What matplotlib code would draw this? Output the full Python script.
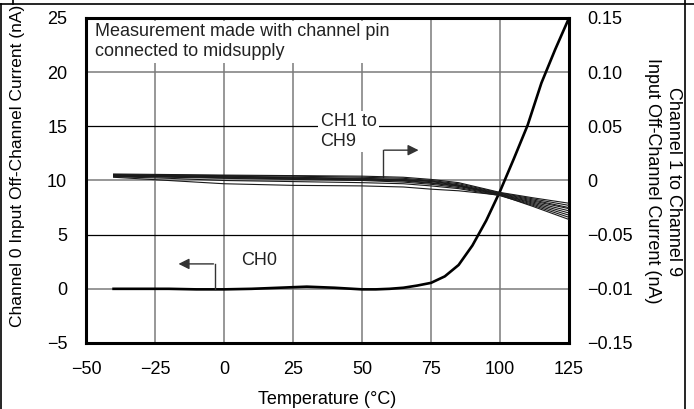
import matplotlib
matplotlib.use("Agg")
import matplotlib.pyplot as plt
from matplotlib.lines import Line2D

plt.rcParams['font.family'] = ['Liberation Sans', 'DejaVu Sans']

# Data
temp_ch0 = [-40, -30, -20, -10, 0, 10, 20, 30, 40, 50, 55, 60, 65, 70, 75,
            80, 85, 90, 95, 100, 105, 110, 115, 120, 125]
# Channel 0 off-channel current (nA, left axis)
ch0 = [0, 0, 0, -0.05, -0.05, 0, 0.1, 0.2, 0.1, -0.05, -0.05, 0.0, 0.1, 0.3,
       0.55, 1.15, 2.2, 4.0, 6.3, 9.0, 12.0, 15.1, 19.0, 22.1, 25.0]

temp_ch = [-40, -20, 0, 25, 50, 65, 75, 85, 100, 112, 125]
# Channel 1..9 off-channel current (nA, right axis)
ch1 = [0.006, 0.0055, 0.005, 0.0045, 0.004, 0.003, 0.001, -0.002, -0.011, -0.016, -0.021]
ch2 = [0.0055, 0.005, 0.0045, 0.004, 0.003, 0.002, 0.000, -0.003, -0.0115, -0.017, -0.023]
ch3 = [0.005, 0.0045, 0.004, 0.003, 0.002, 0.001, -0.0005, -0.004, -0.012, -0.018, -0.025]
ch4 = [0.005, 0.004, 0.0035, 0.0025, 0.0015, 0.0005, -0.001, -0.0045, -0.0125, -0.019, -0.026]
ch5 = [0.0045, 0.004, 0.003, 0.002, 0.001, 0.000, -0.002, -0.005, -0.013, -0.020, -0.028]
ch6 = [0.004, 0.0035, 0.0025, 0.0015, 0.0005, -0.0005, -0.0025, -0.0055, -0.013, -0.021, -0.030]
ch7 = [0.004, 0.003, 0.002, 0.001, 0.000, -0.0015, -0.0035, -0.0065, -0.0135, -0.022, -0.032]
ch8 = [0.0035, 0.002, 0.000, -0.001, -0.002, -0.003, -0.005, -0.0075, -0.014, -0.023, -0.034]
ch9 = [0.003, 0.000, -0.003, -0.0045, -0.005, -0.006, -0.008, -0.0095, -0.0135, -0.024, -0.036]
channels = [ch1, ch2, ch3, ch4, ch5, ch6, ch7, ch8, ch9]

x_ticks = [-50, -25, 0, 25, 50, 75, 100, 125]
left_ticks = [-5, 0, 5, 10, 15, 20, 25]
right_ticks = [-0.15, -0.10, -0.05, 0, 0.05, 0.10, 0.15]
right_labels = ['\u22120.15', '\u22120.01', '\u22120.05', '0', '0.05', '0.10', '0.15']

fig = plt.figure(figsize=(6.94, 4.09), dpi=100)
ax = fig.add_axes([0.1239, 0.1614, 0.696, 0.7946])
ax.set_xlim(-50, 125)
ax.set_ylim(-5, 25)
ax.set_xticks(x_ticks)
ax.set_yticks(left_ticks)

# grid: vertical gray, horizontal alternating gray / black
for x in x_ticks[1:-1]:
    ax.axvline(x, color='#7a7a7a', lw=1.1, zorder=1)
for y in [0, 10, 20]:
    ax.axhline(y, color='#7a7a7a', lw=1.1, zorder=1)
for y in [5, 15]:
    ax.axhline(y, color='black', lw=0.9, zorder=1)

ax.plot(temp_ch0, ch0, color='black', lw=1.9, zorder=5)

for sp in ax.spines.values():
    sp.set_linewidth(2.2)
ax.tick_params(length=0, labelsize=13, pad=13.5)
ax.tick_params(axis='x', pad=13)

ax.set_xlabel('Temperature (\u00b0C)', fontsize=13, labelpad=9)
ax.set_ylabel('Channel 0 Input Off-Channel Current (nA)', fontsize=12.5)
ax.yaxis.set_label_coords(-0.127, 0.545)

ax.text(-46.6, 24.5, 'Measurement made with channel pin\nconnected to midsupply',
        fontsize=13, color='#222222', va='top', ha='left', linespacing=1.2,
        bbox=dict(facecolor='white', edgecolor='none', pad=2), zorder=6)

ax.text(35, 14.5, 'CH1 to\nCH9', fontsize=13, color='#222222', va='center',
        ha='left', linespacing=1.2,
        bbox=dict(facecolor='white', edgecolor='none', pad=1.5), zorder=6)
ax.plot([57.6, 57.6], [10.3, 12.8], color='#333333', lw=1, zorder=6)
ax.annotate('', xy=(71.5, 12.8), xytext=(57.1, 12.8),
            arrowprops=dict(arrowstyle='-|>', color='#333333', lw=1,
                            mutation_scale=16), zorder=6)

ax.text(6.3, 2.65, 'CH0', fontsize=13, color='#222222', va='center', ha='left', zorder=6)
ax.plot([-3.3, -3.3], [0, 2.3], color='#333333', lw=1, zorder=6)
ax.annotate('', xy=(-17.5, 2.3), xytext=(-2.8, 2.3),
            arrowprops=dict(arrowstyle='-|>', color='#333333', lw=1,
                            mutation_scale=16), zorder=6)

ax2 = ax.twinx()
ax2.set_ylim(-0.15, 0.15)
ax2.set_yticks(right_ticks)
ax2.set_yticklabels(right_labels)
ax2.tick_params(length=0, labelsize=13, pad=13)
ax2.set_frame_on(False)
for c in channels:
    ax2.plot(temp_ch, c, color='#1a1a1a', lw=0.8)

fig.text(0.955, 0.557, 'Channel 1 to Channel 9\nInput Off-Channel Current (nA)',
         rotation=270, ha='center', va='center', fontsize=13,
         multialignment='center', linespacing=1.3)

# outer frame
fig.add_artist(Line2D([0, 1], [0.990, 0.990], color='black', lw=1.2))
fig.add_artist(Line2D([0.0015, 0.0015], [0, 0.990], color='black', lw=1.2))
fig.add_artist(Line2D([0.987, 0.987], [0, 1], color='black', lw=1.2))
fig.add_artist(Line2D([0.0187, 0.0187], [0.990, 1], color='black', lw=1.2))

fig.savefig('out.png', dpi=100)
